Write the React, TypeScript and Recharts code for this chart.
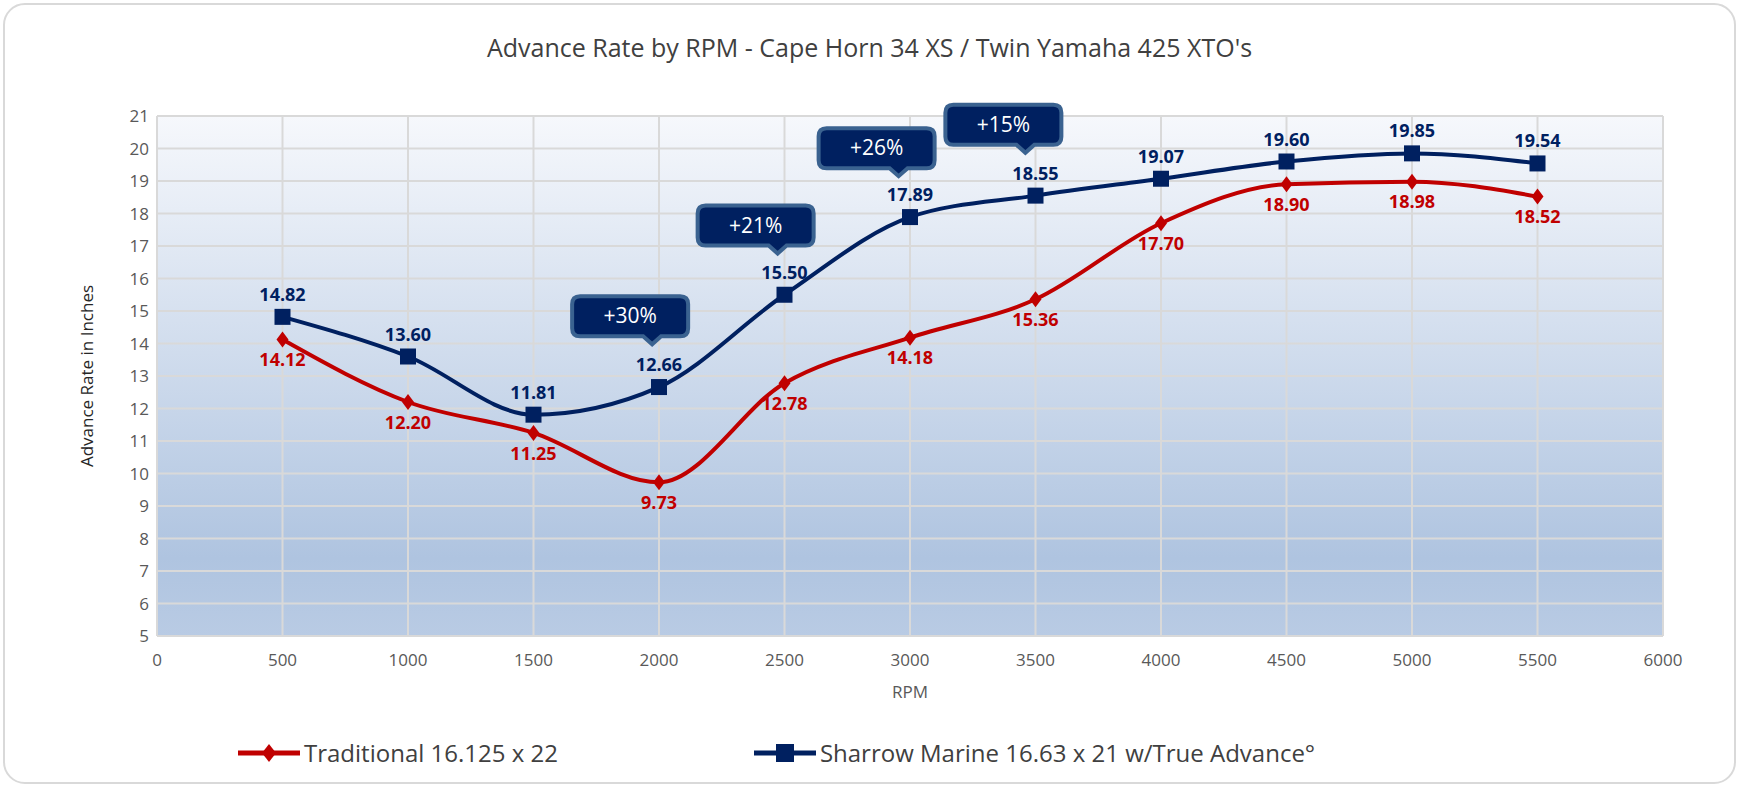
import React from 'react';
import {
  LineChart,
  Line,
  XAxis,
  YAxis,
  CartesianGrid,
  LabelList,
  ReferenceDot,
} from 'recharts';

const rpm = [500, 1000, 1500, 2000, 2500, 3000, 3500, 4000, 4500, 5000, 5500];
const traditional = [14.12, 12.2, 11.25, 9.73, 12.78, 14.18, 15.36, 17.7, 18.9, 18.98, 18.52];
const sharrow = [14.82, 13.6, 11.81, 12.66, 15.5, 17.89, 18.55, 19.07, 19.6, 19.85, 19.54];

const xTicks = [0, 500, 1000, 1500, 2000, 2500, 3000, 3500, 4000, 4500, 5000, 5500, 6000];
const yTicks = [5, 6, 7, 8, 9, 10, 11, 12, 13, 14, 15, 16, 17, 18, 19, 20, 21];

const calloutText = ['+30%', '+21%', '+26%', '+15%'];
const calloutX = [1885, 2385, 2867, 3372];
const calloutY = [14.84, 17.63, 20.01, 20.73];

const data = rpm.map((r, i) => ({ rpm: r, traditional: traditional[i], sharrow: sharrow[i] }));

const FONT = '"Open Sans", "Noto Sans", sans-serif';
const RED = '#c00000';
const NAVY = '#002060';

const Diamond = (props: any) => {
  const { cx, cy } = props;
  if (cx == null || cy == null) return null;
  return <path d={`M${cx},${cy - 8} L${cx + 6},${cy} L${cx},${cy + 8} L${cx - 6},${cy} Z`} fill={RED} />;
};

const Square = (props: any) => {
  const { cx, cy } = props;
  if (cx == null || cy == null) return null;
  return <rect x={cx - 8} y={cy - 8} width={16} height={16} fill={NAVY} />;
};

const Callout = (text: string) => (props: any) => {
  const { cx, cy } = props;
  if (cx == null || cy == null) return null;
  const w = 116;
  const h = 40;
  const x = cx - w / 2;
  const y = cy - h / 2;
  const px = cx + 22;
  return (
    <g>
      <path
        d={`M${x + 8},${y} H${x + w - 8} Q${x + w},${y} ${x + w},${y + 8} V${y + h - 8} Q${x + w},${y + h} ${x + w - 8},${y + h} H${px + 9} L${px},${y + h + 8} L${px - 9},${y + h} H${x + 8} Q${x},${y + h} ${x},${y + h - 8} V${y + 8} Q${x},${y} ${x + 8},${y} Z`}
        fill={NAVY}
        stroke="#3a6290"
        strokeWidth={4}
      />
      <text x={cx} y={cy + 7} textAnchor="middle" fill="#fff" fontSize={21} fontFamily={FONT}>
        {text}
      </text>
    </g>
  );
};

const labelStyle = { fontFamily: FONT, fontSize: 18, fontWeight: 700 };

export default function App() {
  return (
    <div
      style={{
        position: 'absolute',
        left: 0,
        top: 0,
        width: 1739,
        height: 787,
        background: '#fff',
        fontFamily: FONT,
      }}
    >
      <div
        style={{
          position: 'absolute',
          left: 3,
          top: 3,
          width: 1729,
          height: 777,
          border: '2px solid #d9d9d9',
          borderRadius: 22,
        }}
      />
      <div
        style={{
          position: 'absolute',
          left: 0,
          top: 30,
          width: 1739,
          textAlign: 'center',
          fontSize: 25,
          color: '#404040',
        }}
      >
        Advance Rate by RPM - Cape Horn 34 XS / Twin Yamaha 425 XTO's
      </div>
      <div style={{ position: 'absolute', left: 0, top: 0 }}>
        <LineChart width={1739} height={720} data={data} margin={{ top: 116, right: 76, bottom: 20, left: 87 }}>
          <defs>
            <linearGradient id="plotBg" x1="0" y1="0" x2="0" y2="1">
              <stop offset="0%" stopColor="#f6f8fc" />
              <stop offset="85%" stopColor="#afc4e0" />
              <stop offset="100%" stopColor="#b9cbe4" />
            </linearGradient>
          </defs>
          <CartesianGrid fill="url(#plotBg)" stroke="#d9d9d9" strokeWidth={2} />
          <XAxis
            dataKey="rpm"
            type="number"
            domain={[0, 6000]}
            ticks={xTicks}
            tickLine={false}
            axisLine={{ stroke: '#d9d9d9', strokeWidth: 2 }}
            tick={{ fill: '#595959', fontSize: 17, fontFamily: FONT }}
            tickMargin={12}
            height={64}
            label={{ value: 'RPM', position: 'insideBottom', offset: 2, fill: '#595959', fontSize: 17, fontFamily: FONT }}
          />
          <YAxis
            type="number"
            domain={[5, 21]}
            ticks={yTicks}
            interval={0}
            tickLine={false}
            axisLine={false}
            width={70}
            tick={{ fill: '#595959', fontSize: 17, fontFamily: FONT }}
            label={{
              value: 'Advance Rate in Inches',
              angle: -90,
              position: 'insideLeft',
              offset: 0,
              dy: 0,
              style: { textAnchor: 'middle', fill: '#262626', fontSize: 17, fontFamily: FONT },
            }}
          />
          <Line
            type="monotone"
            dataKey="traditional"
            stroke={RED}
            strokeWidth={4}
            dot={<Diamond />}
            activeDot={false}
            isAnimationActive={false}
          >
            <LabelList dataKey="traditional" position="bottom" offset={14} fill={RED} style={labelStyle} formatter={(v: any) => Number(v).toFixed(2)} />
          </Line>
          <Line
            type="monotone"
            dataKey="sharrow"
            stroke={NAVY}
            strokeWidth={4}
            dot={<Square />}
            activeDot={false}
            isAnimationActive={false}
          >
            <LabelList dataKey="sharrow" position="top" offset={16} fill={NAVY} style={labelStyle} formatter={(v: any) => Number(v).toFixed(2)} />
          </Line>
          {calloutText.map((t, i) => (
            <ReferenceDot
              key={t}
              x={calloutX[i]}
              y={calloutY[i]}
              ifOverflow="visible"
              shape={Callout(t)}
            />
          ))}
        </LineChart>
      </div>
      <div
        style={{
          position: 'absolute',
          top: 736,
          left: 238,
          display: 'flex',
          alignItems: 'center',
          fontSize: 24,
          color: '#404040',
        }}
      >
        <svg width={62} height={20}>
          <line x1={0} y1={10} x2={62} y2={10} stroke={RED} strokeWidth={5} />
          <path d="M31,1 L38,10 L31,19 L24,10 Z" fill={RED} />
        </svg>
        <span style={{ marginLeft: 4 }}>Traditional 16.125 x 22</span>
        <svg width={62} height={20} style={{ marginLeft: 196 }}>
          <line x1={0} y1={10} x2={62} y2={10} stroke={NAVY} strokeWidth={5} />
          <rect x={22} y={1} width={18} height={18} fill={NAVY} />
        </svg>
        <span style={{ marginLeft: 4 }}>Sharrow Marine 16.63 x 21 w/True Advance°</span>
      </div>
    </div>
  );
}
